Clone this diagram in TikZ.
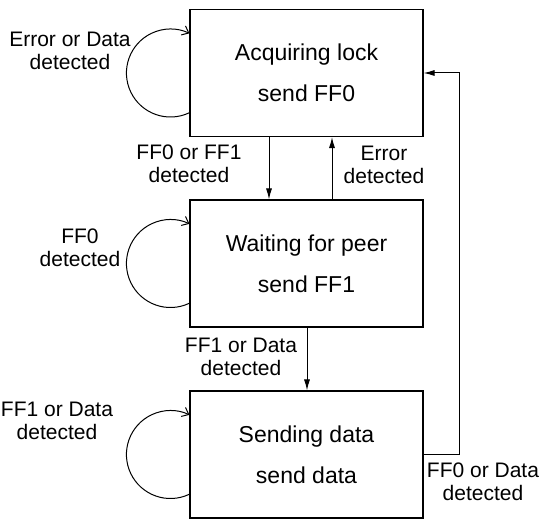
\documentclass[tikz,border=0pt]{standalone}
\usepackage{fontspec}
\setmainfont{Liberation Sans}
\usetikzlibrary{arrows.meta}
\begin{document}
\begin{tikzpicture}[x=1pt,y=1pt,
  state/.style={draw, line width=1.1pt, minimum width=233pt, minimum height=127pt,
    inner sep=0pt, align=center, font=\fontsize{23}{41}\selectfont},
  lbl/.style={align=center, font=\fontsize{21}{23}\selectfont, inner sep=0pt},
  arr/.style={line width=1pt, -{Latex[length=11pt,width=6pt]}},
  selfarr/.style={line width=1pt, -{Straight Barb[length=6pt,width=10pt]}}]
\useasboundingbox (0,0) rectangle (541,519);
\node[state] (b1) at (306.5,446) {Acquiring lock\\send FF0};
\node[state] (b2) at (306.5,255.5) {Waiting for peer\\send FF1};
\node[state] (b3) at (306.5,64.5) {Sending data\\send data};
% transitions
\draw[arr] ([xshift=-37.5pt]b1.south) -- ([xshift=-37.5pt]b2.north);
\draw[arr] ([xshift=25.5pt]b2.north) -- ([xshift=25.5pt]b1.south);
\draw[arr] ([xshift=0.5pt]b2.south) -- ([xshift=0.5pt]b3.north);
\draw[arr] (b3.east) -- ++(36,0) |- (b1.east);
% self loops
\draw[selfarr] ([yshift=-39.7pt]b1.west) arc[start angle=-64.4, end angle=-295.6, radius=44];
\draw[selfarr] ([yshift=-39.7pt]b2.west) arc[start angle=-64.4, end angle=-295.6, radius=44];
\draw[selfarr] ([yshift=-39.7pt]b3.west) arc[start angle=-64.4, end angle=-295.6, radius=44];
% labels
\node[lbl] (l1) at (70,468) {Error or Data\\detected};
\node[lbl] (l2) at (189,355) {FF0 or FF1\\detected};
\node[lbl] (l3) at (384,354) {Error\\detected};
\node[lbl] (l4) at (80,271) {FF0\\detected};
\node[lbl] (l5) at (241,162) {FF1 or Data\\detected};
\node[lbl] (l6) at (57,98) {FF1 or Data\\detected};
\node[lbl] (l7) at (483,37) {FF0 or Data\\detected};
\end{tikzpicture}
\end{document}
